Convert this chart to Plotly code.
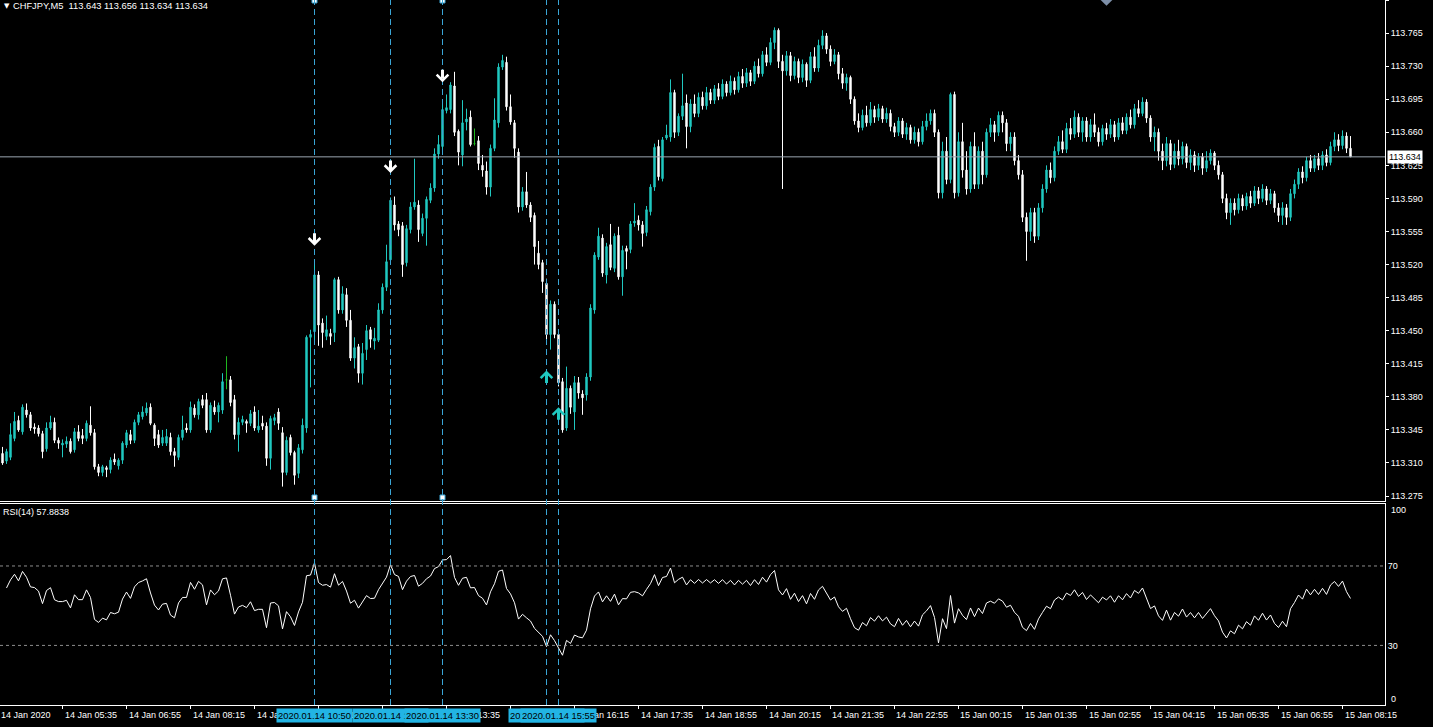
import numpy as np
import pandas as pd
import plotly.graph_objects as go

# ---------------- data ----------------
symbol_title = "CHFJPY,M5"
header_values = "113.643 113.656 113.634 113.634"
rsi_title = "RSI(14) 57.8838"
first_bar_time = "2020-01-14 04:20"
bar_minutes = 5
rsi_period = 14

open_ = [113.320,113.312,113.316,113.336,113.355,113.343,113.366,113.361,113.348,113.347,
 113.341,113.325,113.347,113.353,113.334,113.329,113.330,113.333,113.324,113.343,
 113.339,113.336,113.350,113.342,113.306,113.300,113.305,113.303,113.314,113.307,
 113.313,113.329,113.340,113.334,113.353,113.359,113.363,113.369,113.350,113.340,
 113.331,113.331,113.337,113.322,113.316,113.337,113.347,113.345,113.368,113.361,
 113.377,113.377,113.345,113.369,113.364,113.366,113.398,113.398,113.377,113.340,
 113.353,113.354,113.352,113.364,113.345,113.352,113.349,113.315,113.355,113.364,
 113.342,113.300,113.337,113.321,113.299,113.324,113.347,113.443,113.449,113.509,
 113.458,113.444,113.447,113.448,113.504,113.472,113.488,113.461,113.421,113.433,
 113.405,113.430,113.451,113.439,113.440,113.472,113.496,113.525,113.583,113.563,
 113.561,113.522,113.557,113.581,113.583,113.553,113.569,113.588,113.601,113.637,
 113.645,113.683,113.684,113.709,113.661,113.636,113.671,113.676,113.648,113.651,
 113.625,113.619,113.602,113.643,113.670,113.729,113.734,113.687,113.670,113.639,
 113.581,113.597,113.583,113.572,113.532,113.522,113.500,113.446,113.478,113.446,
 113.396,113.347,113.389,113.364,113.395,113.383,113.382,113.401,113.472,113.528,
 113.548,113.509,113.541,113.516,113.551,113.507,113.537,113.536,113.564,113.567,
 113.562,113.554,113.576,113.602,113.645,113.611,113.654,113.655,113.702,113.660,
 113.677,113.691,113.666,113.690,113.680,113.697,113.688,113.702,113.694,113.706,
 113.698,113.711,113.702,113.714,113.705,113.719,113.712,113.723,113.714,113.730,
 113.722,113.742,113.734,113.755,113.768,113.735,113.725,113.741,113.720,113.735,
 113.718,113.732,113.715,113.740,113.728,113.752,113.762,113.748,113.735,113.742,
 113.722,113.712,113.718,113.695,113.672,113.665,113.678,113.670,113.684,113.676,
 113.685,113.674,113.680,113.666,113.660,113.672,113.658,113.665,113.652,113.660,
 113.650,113.666,113.672,113.680,113.660,113.596,113.640,113.610,113.700,113.596,
 113.650,113.620,113.600,113.645,113.605,113.640,113.615,113.660,113.668,113.660,
 113.678,113.670,113.648,113.655,113.630,113.615,113.570,113.555,113.575,113.550,
 113.580,113.600,113.620,113.612,113.640,113.650,113.642,113.664,113.658,113.676,
 113.660,113.672,113.655,113.668,113.660,113.650,113.664,113.658,113.668,113.655,
 113.670,113.662,113.676,113.668,113.685,113.680,113.692,113.675,113.655,113.660,
 113.640,113.630,113.648,113.626,113.640,113.632,113.645,113.628,113.636,113.625,
 113.634,113.622,113.630,113.638,113.625,113.615,113.590,113.575,113.585,113.578,
 113.590,113.582,113.592,113.585,113.598,113.590,113.600,113.588,113.595,113.580,
 113.572,113.580,113.570,113.595,113.605,113.618,113.612,113.630,113.622,113.632,
 113.625,113.636,113.628,113.645,113.652,113.646,113.656,113.643]

high_ = [113.327,113.325,113.352,113.364,113.360,113.372,113.373,113.364,113.352,113.350,
 113.344,113.353,113.360,113.358,113.337,113.335,113.338,113.336,113.347,113.350,
 113.346,113.355,113.370,113.346,113.309,113.308,113.307,113.316,113.320,113.315,
 113.333,113.345,113.345,113.356,113.364,113.370,113.374,113.373,113.352,113.345,
 113.345,113.346,113.342,113.326,113.340,113.360,113.352,113.375,113.372,113.378,
 113.382,113.384,113.374,113.376,113.374,113.405,113.423,113.402,113.382,113.358,
 113.360,113.356,113.366,113.370,113.366,113.360,113.353,113.360,113.362,113.368,
 113.348,113.338,113.340,113.323,113.330,113.357,113.445,113.451,113.520,113.513,
 113.463,113.466,113.452,113.506,113.507,113.497,113.495,113.472,113.443,113.436,
 113.437,113.456,113.454,113.453,113.479,113.500,113.541,113.591,113.592,113.566,
 113.565,113.562,113.586,113.632,113.588,113.574,113.592,113.606,113.643,113.657,
 113.694,113.700,113.713,113.724,113.663,113.694,113.685,113.683,113.664,113.656,
 113.636,113.629,113.647,113.696,113.733,113.742,113.740,113.700,113.673,113.643,
 113.602,113.618,113.586,113.575,113.545,113.525,113.505,113.482,113.481,113.450,
 113.400,113.412,113.392,113.402,113.401,113.387,113.405,113.478,113.533,113.559,
 113.552,113.543,113.563,113.553,113.560,113.540,113.540,113.566,113.585,113.572,
 113.566,113.582,113.605,113.648,113.652,113.655,113.668,113.716,113.705,113.680,
 113.722,113.700,113.695,113.700,113.702,113.703,113.708,113.706,113.710,113.712,
 113.716,113.714,113.720,113.718,113.724,113.727,113.728,113.726,113.735,113.738,
 113.746,113.750,113.760,113.771,113.770,113.742,113.746,113.745,113.740,113.738,
 113.737,113.734,113.745,113.750,113.758,113.768,113.765,113.752,113.748,113.745,
 113.728,113.722,113.720,113.698,113.680,113.684,113.688,113.692,113.688,113.690,
 113.688,113.686,113.684,113.670,113.676,113.675,113.670,113.668,113.666,113.664,
 113.672,113.680,113.684,113.684,113.663,113.650,113.655,113.702,113.703,113.660,
 113.670,113.640,113.650,113.660,113.645,113.650,113.664,113.675,113.672,113.682,
 113.682,113.674,113.660,113.660,113.636,113.620,113.575,113.580,113.580,113.585,
 113.605,113.625,113.628,113.645,113.656,113.662,113.670,113.675,113.683,113.680,
 113.676,113.676,113.674,113.680,113.665,113.668,113.670,113.674,113.672,113.675,
 113.676,113.680,113.684,113.690,113.694,113.697,113.695,113.678,113.666,113.664,
 113.648,113.655,113.652,113.648,113.652,113.650,113.648,113.642,113.640,113.638,
 113.638,113.640,113.642,113.640,113.630,113.618,113.595,113.590,113.590,113.595,
 113.594,113.596,113.598,113.603,113.602,113.605,113.603,113.600,113.598,113.585,
 113.586,113.584,113.600,113.610,113.622,113.624,113.634,113.636,113.636,113.638,
 113.640,113.642,113.650,113.660,113.658,113.662,113.660,113.656]

low_ = [113.308,113.309,113.313,113.333,113.343,113.340,113.358,113.344,113.341,113.338,
 113.315,113.322,113.345,113.331,113.325,113.316,113.326,113.320,113.321,113.333,
 113.330,113.333,113.339,113.303,113.296,113.296,113.295,113.299,113.308,113.303,
 113.309,113.326,113.330,113.331,113.350,113.356,113.360,113.350,113.328,113.326,
 113.328,113.328,113.318,113.306,113.313,113.334,113.342,113.342,113.358,113.356,
 113.368,113.342,113.342,113.361,113.353,113.362,113.388,113.370,113.335,113.322,
 113.350,113.342,113.349,113.344,113.342,113.345,113.307,113.303,113.350,113.345,
 113.285,113.297,113.318,113.287,113.294,113.320,113.342,113.390,113.436,113.434,
 113.432,113.440,113.435,113.438,113.468,113.468,113.454,113.418,113.410,113.395,
 113.393,113.419,113.432,113.430,113.438,113.468,113.492,113.520,113.556,113.550,
 113.507,113.518,113.553,113.578,113.544,113.550,113.540,113.585,113.597,113.632,
 113.640,113.680,113.680,113.656,113.625,113.624,113.662,113.645,113.646,113.620,
 113.613,113.594,113.592,113.640,113.665,113.726,113.683,113.668,113.633,113.575,
 113.577,113.580,113.565,113.520,113.515,113.490,113.438,113.430,113.442,113.391,
 113.342,113.344,113.362,113.345,113.378,113.361,113.376,113.397,113.468,113.525,
 113.507,113.500,113.514,113.512,113.504,113.487,113.515,113.532,113.560,113.556,
 113.539,113.550,113.572,113.598,113.609,113.608,113.652,113.650,113.654,113.656,
 113.673,113.643,113.660,113.676,113.676,113.684,113.684,113.690,113.690,113.694,
 113.695,113.698,113.699,113.700,113.702,113.707,113.708,113.709,113.711,113.718,
 113.719,113.730,113.731,113.748,113.728,113.600,113.720,113.714,113.716,113.712,
 113.713,113.708,113.712,113.724,113.724,113.748,113.743,113.730,113.732,113.716,
 113.706,113.704,113.690,113.668,113.660,113.662,113.666,113.667,113.670,113.672,
 113.670,113.670,113.661,113.655,113.656,113.654,113.652,113.648,113.648,113.645,
 113.647,113.662,113.668,113.655,113.590,113.590,113.605,113.606,113.590,113.592,
 113.612,113.594,113.596,113.600,113.600,113.605,113.612,113.655,113.650,113.656,
 113.660,113.640,113.640,113.625,113.610,113.565,113.524,113.545,113.543,113.546,
 113.575,113.596,113.606,113.608,113.636,113.638,113.638,113.652,113.654,113.655,
 113.650,113.650,113.650,113.655,113.645,113.646,113.652,113.654,113.650,113.652,
 113.658,113.658,113.664,113.664,113.676,113.677,113.670,113.650,113.640,113.630,
 113.620,113.624,113.620,113.622,113.625,113.626,113.622,113.620,113.618,113.620,
 113.615,113.618,113.626,113.620,113.610,113.585,113.568,113.562,113.572,113.574,
 113.577,113.578,113.580,113.582,113.584,113.586,113.583,113.584,113.575,113.565,
 113.562,113.562,113.566,113.590,113.600,113.606,113.608,113.618,113.618,113.620,
 113.620,113.624,113.625,113.640,113.640,113.642,113.638,113.634]

close_ = [113.310,113.322,113.340,113.354,113.345,113.369,113.361,113.347,113.346,113.341,
 113.322,113.347,113.353,113.334,113.331,113.331,113.333,113.322,113.343,113.336,
 113.336,113.352,113.342,113.306,113.300,113.306,113.303,113.313,113.311,113.313,
 113.331,113.342,113.334,113.353,113.361,113.364,113.368,113.352,113.336,113.329,
 113.337,113.338,113.322,113.318,113.337,113.345,113.345,113.369,113.361,113.375,
 113.371,113.345,113.371,113.364,113.371,113.396,113.398,113.374,113.340,113.353,
 113.356,113.352,113.362,113.347,113.349,113.349,113.315,113.357,113.358,113.352,
 113.300,113.334,113.321,113.297,113.326,113.350,113.443,113.446,113.509,113.456,
 113.448,113.451,113.444,113.504,113.472,113.489,113.461,113.421,113.432,113.405,
 113.426,113.450,113.441,113.442,113.472,113.496,113.523,113.588,113.562,113.557,
 113.520,113.558,113.581,113.586,113.557,113.569,113.589,113.601,113.637,113.647,
 113.684,113.686,113.710,113.660,113.639,113.670,113.674,113.647,113.648,113.627,
 113.620,113.602,113.643,113.673,113.729,113.736,113.687,113.671,113.643,113.581,
 113.597,113.583,113.570,113.539,113.520,113.502,113.446,113.478,113.446,113.395,
 113.345,113.389,113.369,113.395,113.384,113.379,113.401,113.474,113.530,113.550,
 113.511,113.539,113.517,113.550,113.507,113.535,113.534,113.563,113.566,113.562,
 113.553,113.578,113.602,113.644,113.613,113.652,113.657,113.702,113.660,113.677,
 113.688,113.666,113.690,113.680,113.697,113.688,113.702,113.694,113.706,113.698,
 113.711,113.702,113.714,113.705,113.719,113.712,113.723,113.714,113.730,113.722,
 113.742,113.734,113.755,113.768,113.735,113.725,113.741,113.720,113.735,113.718,
 113.732,113.715,113.740,113.728,113.752,113.762,113.748,113.735,113.742,113.722,
 113.712,113.718,113.695,113.672,113.665,113.678,113.670,113.684,113.676,113.685,
 113.674,113.680,113.666,113.660,113.672,113.658,113.665,113.652,113.660,113.650,
 113.666,113.672,113.680,113.660,113.596,113.640,113.610,113.700,113.596,113.650,
 113.620,113.600,113.645,113.605,113.640,113.615,113.660,113.668,113.660,113.678,
 113.670,113.648,113.655,113.630,113.615,113.570,113.555,113.575,113.550,113.580,
 113.600,113.620,113.612,113.640,113.650,113.642,113.664,113.658,113.676,113.660,
 113.672,113.655,113.668,113.660,113.650,113.664,113.658,113.668,113.655,113.670,
 113.662,113.676,113.668,113.685,113.680,113.692,113.675,113.655,113.660,113.640,
 113.630,113.648,113.626,113.640,113.632,113.645,113.628,113.636,113.625,113.634,
 113.622,113.630,113.638,113.625,113.615,113.590,113.575,113.585,113.578,113.590,
 113.582,113.592,113.585,113.598,113.590,113.600,113.588,113.595,113.580,113.572,
 113.580,113.570,113.595,113.605,113.618,113.612,113.630,113.622,113.632,113.625,
 113.636,113.628,113.645,113.652,113.646,113.656,113.643,113.634]

price_ticks = [113.275, 113.310, 113.345, 113.380, 113.415, 113.450, 113.485, 113.520,
               113.555, 113.590, 113.625, 113.660, 113.695, 113.730, 113.765, 113.800]
rsi_levels = [70, 30]
rsi_edge_labels = ["100", "0"]

time_ticks = ["2020-01-14 04:15", "2020-01-14 05:35", "2020-01-14 06:55", "2020-01-14 08:15",
              "2020-01-14 09:35", "2020-01-14 10:55", "2020-01-14 12:15", "2020-01-14 13:35",
              "2020-01-14 14:55", "2020-01-14 16:15", "2020-01-14 17:35", "2020-01-14 18:55",
              "2020-01-14 20:15", "2020-01-14 21:35", "2020-01-14 22:55", "2020-01-15 00:15",
              "2020-01-15 01:35", "2020-01-15 02:55", "2020-01-15 04:15", "2020-01-15 05:35",
              "2020-01-15 06:55", "2020-01-15 08:15"]
time_tick_labels = ["14 Jan 2020", "14 Jan 05:35", "14 Jan 06:55", "14 Jan 08:15",
                    "14 Jan 09:35", "14 Jan 10:55", "14 Jan 12:15", "14 Jan 13:35",
                    "14 Jan 14:55", "14 Jan 16:15", "14 Jan 17:35", "14 Jan 18:55",
                    "14 Jan 20:15", "14 Jan 21:35", "14 Jan 22:55", "15 Jan 00:15",
                    "15 Jan 01:35", "15 Jan 02:55", "15 Jan 04:15", "15 Jan 05:35",
                    "15 Jan 06:55", "15 Jan 08:15"]

signal_times = ["2020-01-14 10:50", "2020-01-14 12:25", "2020-01-14 13:30",
                "2020-01-14 15:40", "2020-01-14 15:55"]
signal_labels = ["2020.01.14 10:50", "2020.01.14 12:25", "2020.01.14 13:30",
                 "2020.01.14 15:40", "2020.01.14 15:55"]
sell_arrow_times = ["2020-01-14 10:50", "2020-01-14 12:25", "2020-01-14 13:30"]
sell_arrow_prices = [113.540, 113.617, 113.713]   # arrow tips
buy_arrow_times = ["2020-01-14 15:40", "2020-01-14 15:55"]
buy_arrow_prices = [113.408, 113.369]             # arrow tips
edge_marker_times = ["2020-01-14 10:50", "2020-01-14 13:30", "2020-01-14 10:50", "2020-01-14 13:30"]
edge_marker_prices = [113.2735, 113.2735, 113.7995, 113.7995]
diamond_times = ["2020-01-15 03:20"]
diamond_prices = [113.800]

# ---------------- styling ----------------
BG = "#000000"
BULL = "#20C8C0"
BEAR = "#FFFFFF"
DOJI = "#1FB81F"
SIGNAL = "#3AA6D6"
SIGNAL_BOX = "#22B4E4"
FONT = "Liberation Sans"
W, H = 1433, 727
PLOT_RIGHT = 1385          # px of the price scale line
MAIN_BOTTOM = 501          # px
RSI_TOP, RSI_BOTTOM = 504, 705
PX_PER_BAR = 4.0
X0 = -0.625                # left edge of the view, in bars
PRICE_TOP = 113.800
PX_PER_PRICE = 33.07 / 0.035
ARROW_LEN = 14             # px

# ---------------- derived ----------------
n = min(len(open_), len(high_), len(low_), len(close_))
open_, high_, low_, close_ = open_[:n], high_[:n], low_[:n], close_[:n]
times = pd.date_range(first_bar_time, periods=n, freq=f"{bar_minutes}min")
x = np.arange(n)


def bar_pos(t):
    return (pd.Timestamp(t) - times[0]) / pd.Timedelta(minutes=bar_minutes)


x_range = [X0, X0 + PLOT_RIGHT / PX_PER_BAR]


def bar_to_paper(p):
    return (p - x_range[0]) / (x_range[1] - x_range[0]) * (PLOT_RIGHT / W)


# RSI (Wilder), seeded with the first window's average
c = np.array(close_)
d = np.diff(c)
gain = np.clip(d, 0, None)
loss = np.clip(-d, 0, None)
ag = gain[:rsi_period].mean()
al = loss[:rsi_period].mean()
rsi = [None]
for k in range(len(d)):
    ag = (ag * (rsi_period - 1) + gain[k]) / rsi_period
    al = (al * (rsi_period - 1) + loss[k]) / rsi_period
    rsi.append(100.0 if al == 0 else 100.0 - 100.0 / (1.0 + ag / al))

is_doji = [o == cl for o, cl in zip(open_, close_)]
not_doji = [not v for v in is_doji]


def pick(arr, keep):
    return [v if k else None for v, k in zip(arr, keep)]


fig = go.Figure()
fig.add_trace(go.Candlestick(
    x=x, open=pick(open_, not_doji), high=pick(high_, not_doji),
    low=pick(low_, not_doji), close=pick(close_, not_doji),
    increasing=dict(line=dict(color=BULL, width=1), fillcolor=BULL),
    decreasing=dict(line=dict(color=BEAR, width=1), fillcolor=BEAR),
    whiskerwidth=0, xaxis="x", yaxis="y", hoverinfo="skip", showlegend=False))
fig.add_trace(go.Candlestick(
    x=x, open=pick(open_, is_doji), high=pick(high_, is_doji),
    low=pick(low_, is_doji), close=pick(close_, is_doji),
    increasing=dict(line=dict(color=DOJI, width=1), fillcolor=DOJI),
    decreasing=dict(line=dict(color=DOJI, width=1), fillcolor=DOJI),
    whiskerwidth=0, xaxis="x", yaxis="y", hoverinfo="skip", showlegend=False))
fig.add_trace(go.Scatter(
    x=[bar_pos(t) for t in edge_marker_times], y=edge_marker_prices, mode="markers",
    marker=dict(symbol="square", size=5, color="white", line=dict(color=SIGNAL, width=1)),
    xaxis="x", yaxis="y", hoverinfo="skip", showlegend=False, cliponaxis=True))
fig.add_trace(go.Scatter(
    x=[bar_pos(t) for t in diamond_times], y=diamond_prices, mode="markers",
    marker=dict(symbol="diamond", size=9, color="#7d8fa8"),
    xaxis="x", yaxis="y", hoverinfo="skip", showlegend=False, cliponaxis=True))

fig.add_trace(go.Scatter(
    x=x, y=rsi, mode="lines", line=dict(color="white", width=1),
    xaxis="x2", yaxis="y2", hoverinfo="skip", showlegend=False))

main_bottom_price = PRICE_TOP - MAIN_BOTTOM / PX_PER_PRICE
rsi_top_value = 100 + 2.4 / ((RSI_BOTTOM - RSI_TOP) / 101.2)

fig.update_layout(
    width=W, height=H, margin=dict(l=0, r=0, t=0, b=0),
    paper_bgcolor=BG, plot_bgcolor=BG, hovermode=False, boxgap=0.5,
    font=dict(family=FONT, size=9, color="white"),
    xaxis=dict(domain=[0, PLOT_RIGHT / W], range=x_range, anchor="y",
               showgrid=False, zeroline=False, showticklabels=False, ticks="",
               showline=True, linecolor="white", linewidth=1,
               rangeslider=dict(visible=False), fixedrange=True),
    yaxis=dict(domain=[1 - MAIN_BOTTOM / H, 1], range=[main_bottom_price, PRICE_TOP],
               side="right", anchor="x", showgrid=False, zeroline=False,
               tickvals=price_ticks, ticktext=[f"{v:.3f}" for v in price_ticks],
               ticks="outside", ticklen=3, tickcolor="white",
               showline=True, linecolor="white", linewidth=1,
               tickfont=dict(family=FONT, size=9, color="white"), fixedrange=True),
    xaxis2=dict(domain=[0, PLOT_RIGHT / W], range=x_range, anchor="y2",
                showgrid=False, zeroline=False, showticklabels=False,
                tickvals=[bar_pos(t) for t in time_ticks], ticks="outside", ticklen=3,
                tickcolor="white", showline=True, mirror=True, linecolor="white",
                linewidth=1, fixedrange=True),
    yaxis2=dict(domain=[1 - RSI_BOTTOM / H, 1 - RSI_TOP / H], range=[0, rsi_top_value],
                side="right", anchor="x2", showgrid=False, zeroline=False,
                tickvals=rsi_levels, ticktext=[str(v) for v in rsi_levels], ticks="",
                showline=True, linecolor="white", linewidth=1,
                tickfont=dict(family=FONT, size=9, color="white"), fixedrange=True),
)

shapes = []
for t in signal_times:
    p = bar_pos(t)
    shapes.append(dict(type="line", xref="x", yref="paper", x0=p, x1=p,
                       y0=1 - RSI_BOTTOM / H, y1=1,
                       line=dict(color=SIGNAL, width=1, dash="6px,4px")))
for lv in rsi_levels:
    shapes.append(dict(type="line", xref="x2 domain", yref="y2", x0=0, x1=1, y0=lv, y1=lv,
                       line=dict(color="#8c8c8c", width=1, dash="3px,3px")))
shapes.append(dict(type="line", xref="x domain", yref="y", x0=0, x1=1,
                   y0=close_[-1], y1=close_[-1], line=dict(color="#9aa6b0", width=1)))
fig.update_layout(shapes=shapes)

ann = []
# signal arrows (tip at the listed price, tail away from the price)
for t, p in zip(sell_arrow_times, sell_arrow_prices):
    ann.append(dict(xref="x", yref="y", x=bar_pos(t), y=p, ax=0, ay=-ARROW_LEN, text="",
                    showarrow=True, arrowhead=4, arrowsize=0.75, arrowwidth=3,
                    arrowcolor="white", standoff=0))
for t, p in zip(buy_arrow_times, buy_arrow_prices):
    ann.append(dict(xref="x", yref="y", x=bar_pos(t), y=p, ax=0, ay=ARROW_LEN, text="",
                    showarrow=True, arrowhead=4, arrowsize=0.75, arrowwidth=3,
                    arrowcolor=BULL, standoff=0))

label_y = 1 - 715 / H
for t, lab in zip(time_ticks, time_tick_labels):
    ann.append(dict(xref="paper", yref="paper", x=bar_to_paper(bar_pos(t)), y=label_y,
                    text=lab, showarrow=False, xanchor="left", yanchor="middle",
                    font=dict(family=FONT, size=9, color="white")))
for t, lab in zip(signal_times, signal_labels):
    ann.append(dict(xref="x2", yref="paper", x=bar_pos(t), y=label_y, text=lab,
                    showarrow=False, xanchor="center", yanchor="middle",
                    bgcolor=SIGNAL_BOX, borderpad=1,
                    font=dict(family=FONT, size=9.4, color="black")))
ann.append(dict(xref="paper", yref="y", x=(PLOT_RIGHT + 2) / W, y=close_[-1],
                text=f"{close_[-1]:.3f}", showarrow=False, xanchor="left", yanchor="middle",
                bgcolor="white", borderpad=1, font=dict(family=FONT, size=9, color="black")))
for lab, ypx in zip(rsi_edge_labels, [510, 699]):
    ann.append(dict(xref="paper", yref="paper", x=(PLOT_RIGHT + 4) / W, y=1 - ypx / H,
                    text=lab, showarrow=False, xanchor="left", yanchor="middle",
                    font=dict(family=FONT, size=9, color="white")))
ann.append(dict(xref="paper", yref="paper", x=2 / W, y=1 - 6 / H, text="▼",
                showarrow=False, xanchor="left", yanchor="middle",
                font=dict(family="DejaVu Sans", size=7, color="white")))
ann.append(dict(xref="paper", yref="paper", x=11 / W, y=1 - 6 / H,
                text=f"{symbol_title}\u00a0\u00a0{header_values}", showarrow=False,
                xanchor="left", yanchor="middle", font=dict(family=FONT, size=9.3, color="white")))
ann.append(dict(xref="paper", yref="paper", x=1 / W, y=1 - 512 / H, text=rsi_title,
                showarrow=False, xanchor="left", yanchor="middle",
                font=dict(family=FONT, size=9, color="white")))
fig.update_layout(annotations=ann)

fig.write_html("out.html", config={"displayModeBar": False, "staticPlot": True},
               post_script="document.body.style.margin='0';document.body.style.background='black';document.body.style.overflow='hidden';")
